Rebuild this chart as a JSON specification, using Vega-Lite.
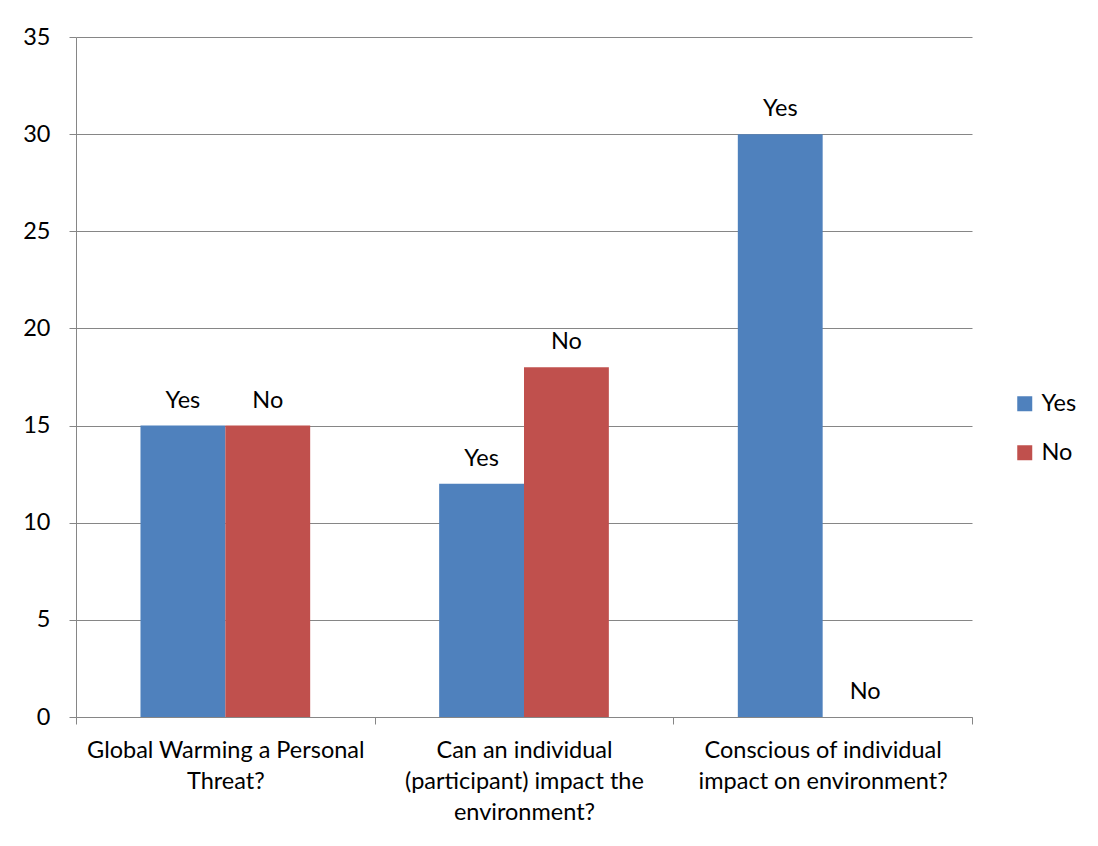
{
  "$schema": "https://vega.github.io/schema/vega-lite/v6.json",
  "width": 896,
  "height": 680,
  "autosize": {"type": "none"},
  "padding": {"left": 76, "top": 37, "right": 126, "bottom": 129},
  "background": "white",
  "data": {"values": [
    {"q": "Global Warming a Personal|Threat?", "answer": "Yes", "count": 15},
    {"q": "Global Warming a Personal|Threat?", "answer": "No", "count": 15},
    {"q": "Can an individual|(participant) impact the|environment?", "answer": "Yes", "count": 12},
    {"q": "Can an individual|(participant) impact the|environment?", "answer": "No", "count": 18},
    {"q": "Conscious of individual|impact on environment?", "answer": "Yes", "count": 30},
    {"q": "Conscious of individual|impact on environment?", "answer": "No", "count": 0}
  ]},
  "encoding": {
    "x": {"field": "q", "type": "nominal", "sort": null,
      "scale": {"paddingInner": 0, "paddingOuter": 0},
      "axis": {"title": null, "labelAngle": 0, "labelExpr": "split(datum.label, '|')",
        "tickBand": "extent", "labelFont": "Lato", "labelFontSize": 23.5, "labelColor": "#000000",
        "labelLimit": 0, "labelLineHeight": 31, "labelPadding": 14, "domainColor": "#868686", "tickColor": "#868686",
        "tickSize": 7, "grid": false, "labelBaseline": "top"}},
    "xOffset": {"field": "answer", "type": "nominal", "sort": ["Yes", "No"],
      "scale": {"paddingInner": 0, "paddingOuter": 0.76}},
    "y": {"field": "count", "type": "quantitative",
      "scale": {"domain": [0, 35]},
      "axis": {"title": null, "values": [0, 5, 10, 15, 20, 25, 30, 35], "labelFont": "Lato",
        "labelFontSize": 23.5, "labelColor": "#000000", "labelPadding": 19,
        "domainColor": "#868686", "tickColor": "#868686", "tickSize": 7,
        "gridColor": "#868686", "gridWidth": 1}}
  },
  "layer": [
    {"mark": {"type": "bar"},
     "encoding": {"color": {"field": "answer", "type": "nominal", "sort": ["Yes", "No"],
        "scale": {"domain": ["Yes", "No"], "range": ["#4F81BD", "#C0504D"]},
        "legend": {"title": null, "orient": "none", "legendX": 937, "legendY": 355,
          "symbolType": "square", "symbolSize": 225, "symbolStrokeWidth": 0,
          "labelFont": "Lato", "labelFontSize": 23.5, "labelColor": "#000000",
          "rowPadding": 24, "labelOffset": 5}}}},
    {"mark": {"type": "text", "baseline": "bottom", "dy": -13, "font": "Lato", "fontSize": 23.5, "color": "#000000"},
     "encoding": {"text": {"field": "answer"}}}
  ],
  "config": {"view": {"stroke": null}}
}
